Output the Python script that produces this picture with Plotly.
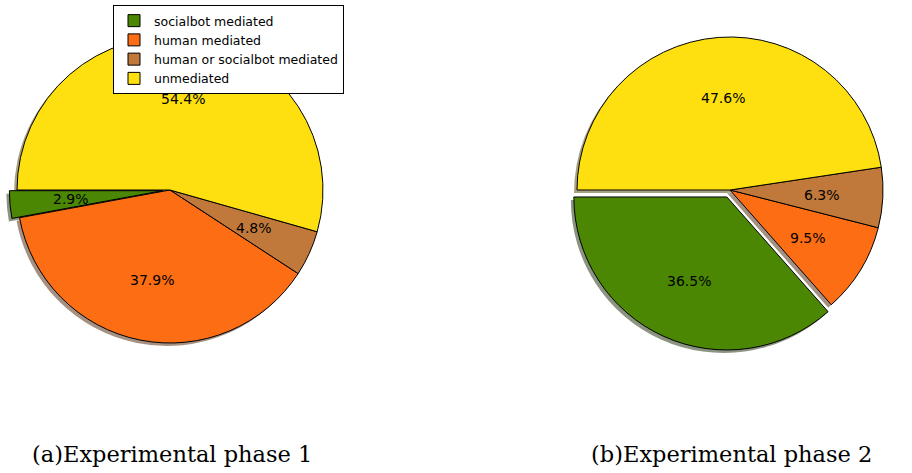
import math
import plotly.graph_objects as go

W, H = 912, 473

labels = ["socialbot mediated", "human mediated", "human or socialbot mediated", "unmediated"]
phase1_values = [2.9, 37.9, 4.8, 54.4]
phase2_values = [23, 6, 4, 30]
phase1_pull = [0.05, 0, 0, 0]
phase2_pull = [0.05, 0, 0, 0]
captions = ["(a)Experimental phase 1", "(b)Experimental phase 2"]

colors = ["#4b8703", "#fd6d13", "#c0793a", "#fee011"]


def shadow_color(hx):
    r, g, b = (int(hx[i:i + 2], 16) for i in (1, 3, 5))
    f = lambda c: int(round(255 * 0.5 + 0.15 * c))
    return "rgb(%d,%d,%d)" % (f(r), f(g), f(b))


shadow_colors = [shadow_color(c) for c in colors]

R = 153
MAXPULL = 0.05
START_DEG = 180  # first wedge starts at 9 o'clock, going counterclockwise
PCT_DIST = 0.6


def domain(cx, cy, dx=0, dy=0):
    half = R * (1 + MAXPULL)
    x0 = (cx - half + dx) / W
    x1 = (cx + half + dx) / W
    y0 = (H - (cy + half + dy)) / H
    y1 = (H - (cy - half + dy)) / H
    return dict(x=[x0, x1], y=[y0, y1])


def rotation_for(vals):
    # plotly: in counterclockwise mode, first slice ends at 'rotation'
    a0 = 360.0 * vals[0] / sum(vals)
    rot = -90 - a0
    while rot < -180:
        rot += 360
    return rot


centers = [(170, 190), (730, 190)]
values = [phase1_values, phase2_values]
pulls = [phase1_pull, phase2_pull]
legends = ["legend", "legend2"]

fig = go.Figure()
for i in range(2):
    cx, cy = centers[i]
    rot = rotation_for(values[i])
    fig.add_trace(go.Pie(
        labels=labels, values=values[i], pull=pulls[i], sort=False,
        direction="counterclockwise", rotation=rot,
        marker=dict(colors=shadow_colors, line=dict(width=0)),
        textinfo="none", hoverinfo="skip", showlegend=False,
        domain=domain(cx, cy, -3, 3), legend=legends[i],
    ))
    fig.add_trace(go.Pie(
        labels=labels, values=values[i], pull=pulls[i], sort=False,
        direction="counterclockwise", rotation=rot,
        marker=dict(colors=colors, line=dict(color="black", width=1)),
        textinfo="none", hovertemplate="%{label}: %{percent:.1%}<extra></extra>",
        domain=domain(cx, cy), legend=legends[i], showlegend=True,
    ))
    # percentage labels, matplotlib autopct style (0.6 radius at mid-angle)
    total = float(sum(values[i]))
    theta = START_DEG
    for v, p in zip(values[i], pulls[i]):
        span = 360.0 * v / total
        mid = math.radians(theta + span / 2)
        rr = R * (PCT_DIST + p)
        px = cx + rr * math.cos(mid)
        py = cy - rr * math.sin(mid)
        fig.add_annotation(
            text="%.1f%%" % (100.0 * v / total), x=px / W, y=(H - py) / H,
            xref="paper", yref="paper", showarrow=False,
            xanchor="center", yanchor="middle",
            font=dict(family="DejaVu Sans", size=14, color="black"),
        )
        theta += span

legend_style = dict(
    bgcolor="white", bordercolor="black", borderwidth=1,
    font=dict(family="DejaVu Sans", size=12.5, color="black"),
    yanchor="top", xanchor="left", tracegroupgap=0,
)
fig.update_layout(
    width=W, height=H, margin=dict(l=0, r=0, t=0, b=0),
    paper_bgcolor="white", plot_bgcolor="white",
    legend=dict(x=113 / W, y=(H - 5) / H, **legend_style),
    legend2=dict(x=672 / W, y=(H - 5) / H, **legend_style),
)

for cap, xc in zip(captions, [172, 731]):
    fig.add_annotation(
        text=cap, x=xc / W, y=(H - 454) / H, xref="paper", yref="paper",
        showarrow=False, xanchor="center", yanchor="middle",
        font=dict(family="DejaVu Serif", size=22.5, color="black"),
    )

fig.write_html("out.html")
